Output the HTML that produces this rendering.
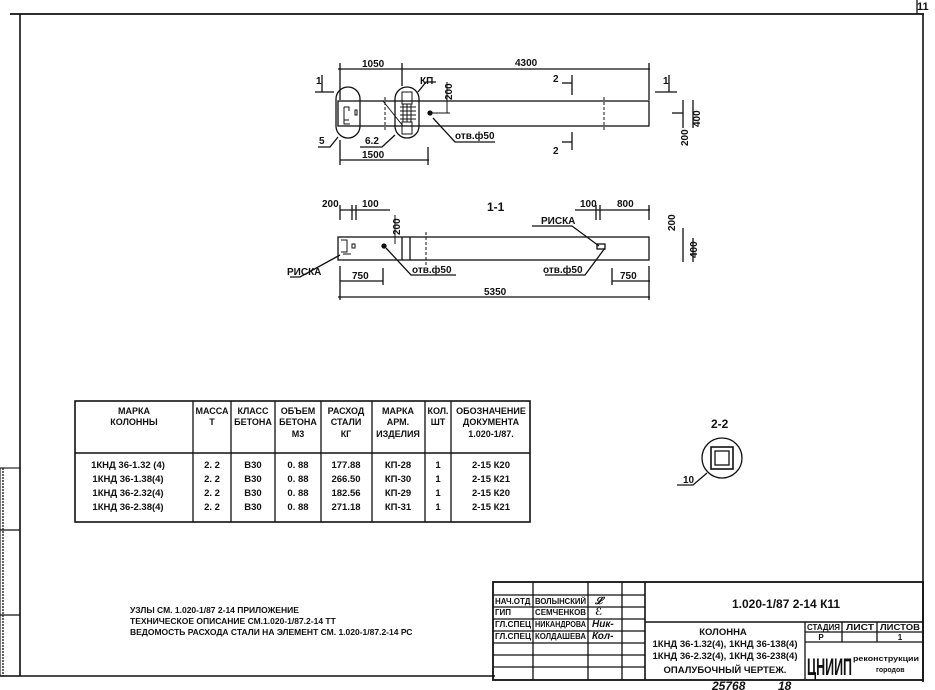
<!DOCTYPE html>
<html><head><meta charset="utf-8"><style>
html,body{margin:0;padding:0;background:#fff;}
svg{display:block;}
text{font-family:"Liberation Sans","DejaVu Sans",sans-serif;font-weight:bold;fill:#111;}
</style></head><body>
<svg width="935" height="690" viewBox="0 0 935 690" xmlns="http://www.w3.org/2000/svg">
<g stroke="#111" fill="none" stroke-width="1.3">
<line x1="10" y1="14" x2="924" y2="14" stroke-width="1.8"/>
<line x1="20" y1="14" x2="20" y2="676" stroke-width="1.6"/>
<line x1="923" y1="14" x2="923" y2="682" stroke-width="1.6"/>
<line x1="0" y1="676" x2="495" y2="676" stroke-width="1.6"/>
<line x1="917" y1="0" x2="917" y2="14"/>
<rect x="0" y="468" width="20" height="208" stroke-width="1.1"/>
<line x1="0" y1="530" x2="20" y2="530"/>
<line x1="0" y1="615" x2="20" y2="615"/>
<line x1="3" y1="468" x2="3" y2="676" stroke-dasharray="2,1"/>

<rect x="338" y="101" width="311" height="25"/>
<rect x="336" y="87" width="24" height="51" rx="12"/>
<rect x="395" y="87" width="24" height="51" rx="12"/>
<path d="M344 107h5v4M344 107v13h5M344 120v4h6M355 110h2v5h-2z" stroke-width="1"/>
<path d="M402 92h10v12h-10zM402 122h10v12h-10zM400 107h16M400 111h16M400 115h16M400 119h16M403 104v18M407 104v18M411 104v18M383 101l20 25" stroke-width="1"/>
<line x1="385" y1="97" x2="385" y2="130" stroke-dasharray="3,2" stroke-width="1"/>
<line x1="604" y1="97" x2="604" y2="130" stroke-dasharray="3,2" stroke-width="1"/>
<circle cx="430" cy="113" r="2" fill="#111"/>
<line x1="338" y1="69" x2="650" y2="69"/>
<line x1="340" y1="63" x2="340" y2="100"/><line x1="402" y1="63" x2="402" y2="86"/><line x1="649" y1="63" x2="649" y2="100"/>
<line x1="340" y1="160" x2="429" y2="160"/>
<line x1="340" y1="140" x2="340" y2="165"/><line x1="428" y1="147" x2="428" y2="165"/>
<line x1="315" y1="92" x2="334" y2="92"/><line x1="322" y1="75" x2="322" y2="92"/>
<line x1="655" y1="92" x2="677" y2="92"/><line x1="669" y1="75" x2="669" y2="92"/>
<line x1="572" y1="75" x2="572" y2="95"/><line x1="562" y1="83" x2="572" y2="83"/>
<line x1="572" y1="132" x2="572" y2="150"/><line x1="562" y1="142" x2="572" y2="142"/>
<path d="M318 147h12l8-10M360 147h22l13-12M418 92l8-10h10M433 118l22 24h40"/>
<line x1="447" y1="82" x2="447" y2="113" stroke-width="1"/><line x1="432" y1="113" x2="450" y2="113" stroke-width="1"/>
<line x1="683" y1="100" x2="683" y2="128"/><line x1="683" y1="113" x2="672" y2="113"/>
<line x1="693" y1="100" x2="693" y2="128"/>

<rect x="338" y="237" width="311" height="23"/>
<line x1="402" y1="237" x2="402" y2="260"/><line x1="410" y1="237" x2="410" y2="260"/>
<line x1="426" y1="232" x2="426" y2="265" stroke-dasharray="3,2" stroke-width="1"/>
<path d="M341 240h6v12h-6M343 254h8M352 244h3v4h-3z" stroke-width="1"/>
<circle cx="384" cy="246" r="2" fill="#111"/>
<rect x="597" y="244" width="8" height="5"/>
<line x1="340" y1="210" x2="390" y2="210"/>
<line x1="340" y1="205" x2="340" y2="220"/><line x1="352" y1="205" x2="352" y2="220"/><line x1="356" y1="205" x2="356" y2="220"/>
<line x1="575" y1="210" x2="650" y2="210"/>
<line x1="596" y1="205" x2="596" y2="220"/><line x1="600" y1="205" x2="600" y2="220"/><line x1="649" y1="205" x2="649" y2="220"/>
<line x1="395" y1="215" x2="395" y2="244" stroke-width="1"/>
<line x1="683" y1="228" x2="683" y2="262"/><line x1="693" y1="238" x2="693" y2="262"/>
<path d="M290 277h10l40-22M386 248l25 27h45M605 248l-20 27h-40M532 226h40l27 20"/>
<line x1="340" y1="281" x2="383" y2="281"/><line x1="340" y1="266" x2="340" y2="300"/><line x1="383" y1="268" x2="383" y2="285"/>
<line x1="612" y1="281" x2="650" y2="281"/><line x1="612" y1="268" x2="612" y2="285"/><line x1="649" y1="266" x2="649" y2="300"/>
<line x1="338" y1="297" x2="650" y2="297"/>

<circle cx="722" cy="458" r="20"/>
<rect x="711" y="447" width="22" height="22" stroke-width="1.6"/>
<rect x="715" y="451" width="14" height="14"/>
<path d="M677 485h16l14-12"/>

<rect x="75" y="401" width="455" height="121" stroke-width="1.6"/>
<line x1="75" y1="453" x2="530" y2="453" stroke-width="1.6"/>
<line x1="193" y1="401" x2="193" y2="522"/><line x1="231" y1="401" x2="231" y2="522"/>
<line x1="275" y1="401" x2="275" y2="522"/><line x1="321" y1="401" x2="321" y2="522"/>
<line x1="372" y1="401" x2="372" y2="522"/><line x1="425" y1="401" x2="425" y2="522"/>
<line x1="451" y1="401" x2="451" y2="522"/>

<rect x="493" y="582" width="430" height="98" stroke-width="1.8"/>
<line x1="533" y1="582" x2="533" y2="680"/><line x1="588" y1="582" x2="588" y2="680"/>
<line x1="622" y1="582" x2="622" y2="680"/><line x1="645" y1="582" x2="645" y2="680" stroke-width="1.6"/>
<line x1="493" y1="595" x2="645" y2="595"/><line x1="493" y1="607" x2="645" y2="607"/>
<line x1="493" y1="619" x2="645" y2="619"/><line x1="493" y1="631" x2="645" y2="631"/>
<line x1="493" y1="643" x2="645" y2="643"/><line x1="493" y1="655" x2="645" y2="655"/>
<line x1="493" y1="667" x2="645" y2="667"/>
<line x1="645" y1="622" x2="923" y2="622" stroke-width="1.6"/>
<line x1="805" y1="622" x2="805" y2="680"/>
<line x1="805" y1="632" x2="923" y2="632"/><line x1="805" y1="642" x2="923" y2="642"/>
<line x1="842" y1="622" x2="842" y2="642"/><line x1="877" y1="622" x2="877" y2="642"/>
</g>

<text x="917" y="10" font-size="11" font-weight="normal">11</text>
<g font-size="10">
<text x="362" y="67">1050</text><text x="515" y="66">4300</text>
<text x="316" y="84">1</text><text x="663" y="84">1</text>
<text x="553" y="82">2</text><text x="553" y="154">2</text>
<text x="420" y="84">КП</text>
<text x="319" y="144">5</text><text x="365" y="144">6.2</text>
<text x="455" y="139">отв.ф50</text>
<text x="362" y="158">1500</text>
<text transform="translate(452,100) rotate(-90)">200</text>
<text transform="translate(700,127) rotate(-90)">400</text>
<text transform="translate(688,146) rotate(-90)">200</text>
<text x="487" y="211" font-size="12">1-1</text>
<text x="322" y="207">200</text><text x="362" y="207">100</text>
<text x="580" y="207">100</text><text x="617" y="207">800</text>
<text x="541" y="224">РИСКА</text>
<text transform="translate(400,235) rotate(-90)">200</text>
<text transform="translate(675,231) rotate(-90)">200</text>
<text transform="translate(697,258) rotate(-90)">400</text>
<text x="287" y="275">РИСКА</text>
<text x="412" y="273">отв.ф50</text><text x="543" y="273">отв.ф50</text>
<text x="352" y="279">750</text><text x="620" y="279">750</text>
<text x="484" y="295">5350</text>
<text x="711" y="428" font-size="12">2-2</text>
<text x="683" y="483">10</text>
</g>
<g font-size="9" text-anchor="middle">
<text x="134" y="414">МАРКА</text><text x="134" y="425">КОЛОННЫ</text>
<text x="212" y="414">МАССА</text><text x="212" y="425">Т</text>
<text x="253" y="414">КЛАСС</text><text x="253" y="425">БЕТОНА</text>
<text x="298" y="414">ОБЪЕМ</text><text x="298" y="425">БЕТОНА</text><text x="298" y="437">М3</text>
<text x="346" y="414">РАСХОД</text><text x="346" y="425">СТАЛИ</text><text x="346" y="437">КГ</text>
<text x="398" y="414">МАРКА</text><text x="398" y="425">АРМ.</text><text x="398" y="437">ИЗДЕЛИЯ</text>
<text x="438" y="414">КОЛ.</text><text x="438" y="425">ШТ</text>
<text x="491" y="414">ОБОЗНАЧЕНИЕ</text><text x="491" y="425">ДОКУМЕНТА</text><text x="491" y="437">1.020-1/87.</text>
</g>
<g font-size="9.5" text-anchor="middle">
<text x="128" y="468">1КНД 36-1.32 (4)</text><text x="128" y="482">1КНД 36-1.38(4)</text><text x="128" y="496">1КНД 36-2.32(4)</text><text x="128" y="510">1КНД 36-2.38(4)</text>
<text x="212" y="468">2. 2</text><text x="212" y="482">2. 2</text><text x="212" y="496">2. 2</text><text x="212" y="510">2. 2</text>
<text x="253" y="468">B30</text><text x="253" y="482">B30</text><text x="253" y="496">B30</text><text x="253" y="510">B30</text>
<text x="298" y="468">0. 88</text><text x="298" y="482">0. 88</text><text x="298" y="496">0. 88</text><text x="298" y="510">0. 88</text>
<text x="346" y="468">177.88</text><text x="346" y="482">266.50</text><text x="346" y="496">182.56</text><text x="346" y="510">271.18</text>
<text x="398" y="468">КП-28</text><text x="398" y="482">КП-30</text><text x="398" y="496">КП-29</text><text x="398" y="510">КП-31</text>
<text x="438" y="468">1</text><text x="438" y="482">1</text><text x="438" y="496">1</text><text x="438" y="510">1</text>
<text x="491" y="468">2-15   К20</text><text x="491" y="482">2-15   К21</text><text x="491" y="496">2-15   К20</text><text x="491" y="510">2-15   К21</text>
</g>
<g font-size="8.5">
<text x="130" y="613">УЗЛЫ СМ. 1.020-1/87 2-14 ПРИЛОЖЕНИЕ</text>
<text x="130" y="624">ТЕХНИЧЕСКОЕ ОПИСАНИЕ СМ.1.020-1/87.2-14 ТТ</text>
<text x="130" y="635">ВЕДОМОСТЬ РАСХОДА СТАЛИ НА ЭЛЕМЕНТ СМ. 1.020-1/87.2-14  РС</text>
</g>
<g font-size="8" font-weight="normal">
<text x="495" y="604">НАЧ.ОТД</text><text x="535" y="604" textLength="51" lengthAdjust="spacingAndGlyphs">ВОЛЫНСКИЙ</text>
<text x="495" y="615">ГИП</text><text x="535" y="615" textLength="51" lengthAdjust="spacingAndGlyphs">СЕМЧЕНКОВ</text>
<text x="495" y="627" textLength="36" lengthAdjust="spacingAndGlyphs">ГЛ.СПЕЦ</text><text x="535" y="627" textLength="51" lengthAdjust="spacingAndGlyphs">НИКАНДРОВА</text>
<text x="495" y="639" textLength="36" lengthAdjust="spacingAndGlyphs">ГЛ.СПЕЦ</text><text x="535" y="639" textLength="51" lengthAdjust="spacingAndGlyphs">КОЛДАШЕВА</text>
</g>
<g font-size="10" font-family="Liberation Serif" font-style="italic" font-weight="normal">
<text x="595" y="604">𝓛</text><text x="595" y="615">ℰ</text><text x="592" y="627">Ник-</text><text x="592" y="639">Кол-</text>
</g>
<text x="732" y="608" font-size="12">1.020-1/87 2-14 К11</text>
<g font-size="9.5" text-anchor="middle">
<text x="723" y="635">КОЛОННА</text>
<text x="725" y="647">1КНД 36-1.32(4), 1КНД 36-138(4)</text>
<text x="725" y="659">1КНД 36-2.32(4), 1КНД 36-238(4)</text>
<text x="725" y="673">ОПАЛУБОЧНЫЙ ЧЕРТЕЖ.</text>
</g>
<g font-size="8">
<text x="807" y="630" textLength="33" lengthAdjust="spacingAndGlyphs">СТАДИЯ</text>
<text x="846" y="630" textLength="28" lengthAdjust="spacingAndGlyphs">ЛИСТ</text>
<text x="880" y="630" textLength="40" lengthAdjust="spacingAndGlyphs">ЛИСТОВ</text>
<text x="821" y="640" text-anchor="middle">Р</text><text x="900" y="640" text-anchor="middle">1</text>
</g>
<text x="807" y="675" font-size="24" font-weight="normal" textLength="45" lengthAdjust="spacingAndGlyphs">ЦНИИП</text>
<text x="853" y="661" font-size="7" textLength="66" lengthAdjust="spacingAndGlyphs">реконструкции</text>
<text x="876" y="672" font-size="7">городов</text>
<text x="712" y="690" font-size="12" font-weight="normal" font-style="italic">25768</text>
<text x="778" y="690" font-size="12" font-weight="normal" font-style="italic">18</text>
</svg>
</body></html>
